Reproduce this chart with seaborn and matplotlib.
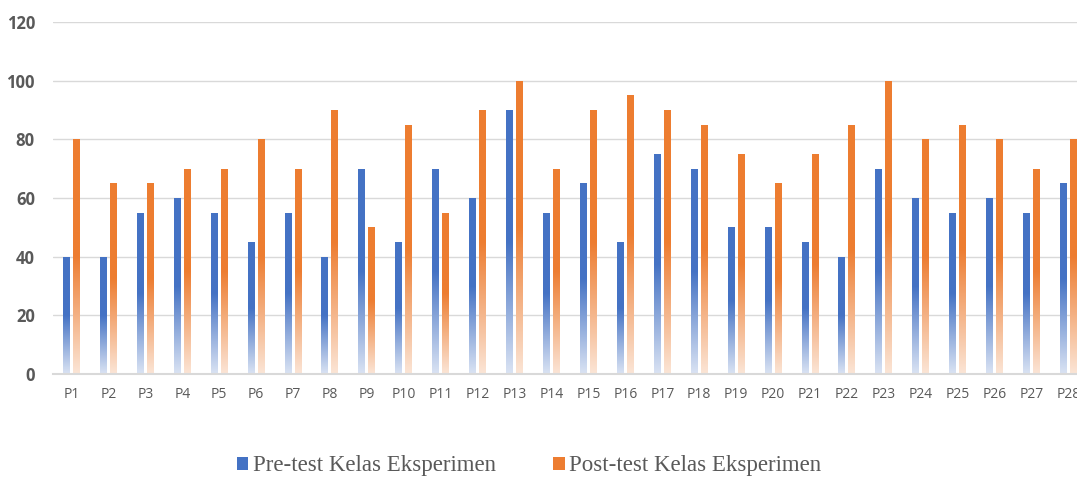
import numpy as np
import pandas as pd
import seaborn as sns
import matplotlib
import matplotlib.pyplot as plt
from matplotlib.colors import to_rgb
from matplotlib.patches import Patch

matplotlib.use("Agg")

# Données
peserta = ["P1", "P2", "P3", "P4", "P5", "P6", "P7", "P8", "P9", "P10",
           "P11", "P12", "P13", "P14", "P15", "P16", "P17", "P18", "P19", "P20",
           "P21", "P22", "P23", "P24", "P25", "P26", "P27", "P28"]
pre_test = [40, 40, 55, 60, 55, 45, 55, 40, 70, 45, 70, 60, 90, 55,
            65, 45, 75, 70, 50, 50, 45, 40, 70, 60, 55, 60, 55, 65]
post_test = [80, 65, 65, 70, 70, 80, 70, 90, 50, 85, 55, 90, 100, 70,
             90, 95, 90, 85, 75, 65, 75, 85, 100, 80, 85, 80, 70, 80]
series = ["Pre-test Kelas Eksperimen", "Post-test Kelas Eksperimen"]

blue, orange = "#4472C4", "#ED7D31"
light = {blue: "#dae3f3", orange: "#fbe5d6"}

df = pd.DataFrame({"Peserta": peserta, series[0]: pre_test, series[1]: post_test})
df = df.melt(id_vars="Peserta", var_name="Kelompok", value_name="Nilai")

sns.set_style("white")
plt.rcParams["font.family"] = ["Open Sans", "DejaVu Sans"]

fig = plt.figure(figsize=(10.77, 4.79), dpi=100)
ax = fig.add_axes([53 / 1077, 105 / 479, 1034 / 1077, 352 / 479])

sns.barplot(data=df, x="Peserta", y="Nilai", hue="Kelompok", palette=[blue, orange],
            width=0.54, gap=0.3, saturation=1, legend=False, ax=ax)

# Dégradé vertical dans chaque barre
for bar in list(ax.patches):
    base = np.array(to_rgb(bar.get_facecolor()))
    hexbase = blue if np.allclose(base, to_rgb(blue), atol=0.02) else orange
    low = np.array(to_rgb(light[hexbase]))
    t = np.linspace(0, 1, 200)
    f = np.clip(t / 0.5, 0, 1)[:, None]
    cols = low + (base - low) * f
    img = cols[:, None, :]
    x0, y0 = bar.get_x(), bar.get_y()
    w, h = bar.get_width(), bar.get_height()
    bar.set_facecolor("none")
    bar.set_edgecolor("none")
    im = ax.imshow(img, extent=[x0, x0 + w, y0, y0 + h], origin="lower",
                   aspect="auto", zorder=2, interpolation="bilinear")
    im.set_clip_path(bar)

ax.set_xlim(-0.5, 27.5)
ax.set_ylim(0, 120)
ax.set_yticks(range(0, 121, 20))
ax.yaxis.grid(True, color="#d9d9d9", lw=1)
ax.set_axisbelow(True)
for s in ["top", "right", "left"]:
    ax.spines[s].set_visible(False)
ax.spines["bottom"].set_color("#d9d9d9")
ax.spines["bottom"].set_linewidth(1.5)
ax.spines["bottom"].set_zorder(3)

ax.set_xlabel("")
ax.set_ylabel("")
ax.tick_params(axis="x", length=0, pad=9, labelsize=10, labelcolor="#595959")
ax.tick_params(axis="y", length=0, pad=13, labelsize=12, labelcolor="#595959")
for lab in ax.get_yticklabels():
    lab.set_fontweight("bold")

handles = [Patch(facecolor=blue, edgecolor="none"), Patch(facecolor=orange, edgecolor="none")]
fig.legend(handles, series, loc="center", bbox_to_anchor=(529 / 1077, 1 - 466 / 479),
           ncol=2, frameon=False, handlelength=0.5, handleheight=0.5, handletextpad=0.2,
           columnspacing=2.5, prop={"family": "Liberation Serif", "size": 16.5},
           labelcolor="#595959")

plt.savefig("out.png", dpi=100)
